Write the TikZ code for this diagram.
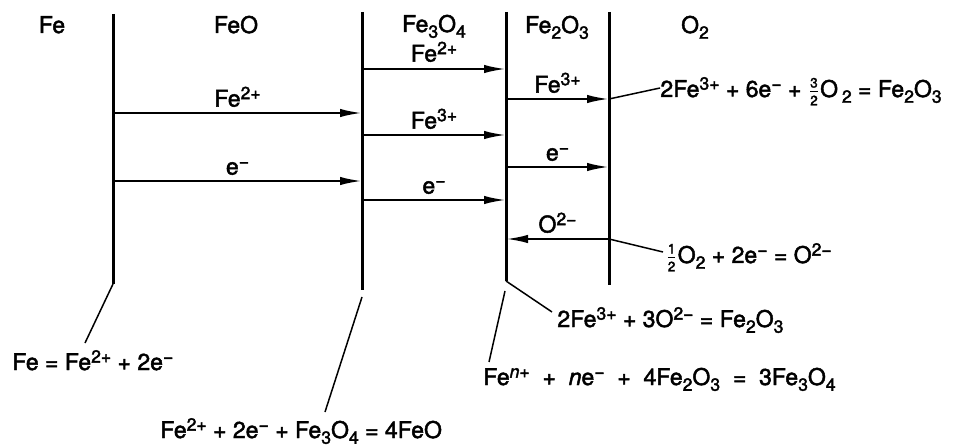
\documentclass[tikz,border=0pt]{standalone}
\usepackage{fontspec}
\setsansfont[FakeBold=2]{TeX Gyre Heros}
\usetikzlibrary{arrows.meta,calc}
\newcommand{\up}[1]{\raisebox{0.32em}{\fontsize{8.8}{9}\selectfont #1}}
\newcommand{\dn}[1]{\raisebox{-0.25em}{\fontsize{8.8}{9}\selectfont #1}}
\newcommand{\hfr}[2]{$\frac{\mbox{\fontsize{6.8}{7}\selectfont #1}}{\mbox{\fontsize{6.8}{7}\selectfont #2}}$}

\begin{document}
\begin{tikzpicture}[
  x=0.5pt, y=-0.5pt,
  font=\sffamily\fontsize{11.5}{13.5}\selectfont,
  phase/.style={line width=1.5pt},
  flow/.style={-{Latex[length=11pt,width=4.2pt]}, line width=1.1pt},
  lead/.style={line width=0.75pt},
  lbl/.style={above=1.5pt, inner sep=1pt},
  hdr/.style={anchor=base, inner sep=0pt},
  eq/.style={anchor=base west, inner sep=0pt}
]
  \useasboundingbox (0,0) rectangle (956,448);

  \draw[phase] (113,14) coordinate (b1t) -- (113,284) coordinate (b1b);
  \draw[phase] (362,12) coordinate (b2t) -- (362,290) coordinate (b2b);
  \draw[phase] (506,12) coordinate (b3t) -- (506,281) coordinate (b3b);
  \draw[phase] (609,12) coordinate (b4t) -- (609,285) coordinate (b4b);

  \node[hdr] (hFe) at (52,33) {Fe};
  \node[hdr] (hFeO) at (236,33) {FeO};
  \node[hdr] (hMag) at (434,32) {Fe\dn{3}O\dn{4}};
  \node[hdr] (hHem) at (557,33) {Fe\dn{2}O\dn{3}};
  \node[hdr] (hOx) at (695,33) {O\dn{2}};

  % FeO
  \draw[flow] (b1t |- 0,113) -- node[lbl] (fWus) {Fe\up{2+}} (b2t |- 0,113);
  \draw[flow] (b1t |- 0,181) -- node[lbl] (eWus) {e\up{−}} (b2t |- 0,181);
  % Fe3O4
  \draw[flow] (b2t |- 0,69) -- node[lbl, above=0.5pt] (fMag) {Fe\up{2+}} (b3t |- 0,69);
  \draw[flow] (b2t |- 0,135) -- node[lbl] (gMag) {Fe\up{3+}} (b3t |- 0,135);
  \draw[flow] (b2t |- 0,200) -- node[lbl] (eMag) {e\up{−}} (b3t |- 0,200);
  % Fe2O3
  \draw[flow] (b3t |- 0,99) -- node[lbl] (gHem) {Fe\up{3+}} (b4t |- 0,99) coordinate (b4f);
  \draw[flow] (b3t |- 0,167) -- node[lbl] (eHem) {e\up{−}} (b4t |- 0,167);
  \draw[flow] (b4t |- 0,239) coordinate (b4o) -- node[lbl] (oHem) {O\up{2−}} (b3t |- 0,239);

  \node[eq] (r1) at (12,370) {Fe = Fe\up{2+} + 2e\up{−}};
  \node[eq] (r2) at (160,438) {Fe\up{2+} + 2e\up{−} + Fe\dn{3}O\dn{4} = 4FeO};
  \node[eq] (r3) at (483,385) {Fe\up{\textit{n}+}\ \ + \ \textit{n}e\up{−}\ \ + \ 4Fe\dn{2}O\dn{3}\ \ = \ 3Fe\dn{3}O\dn{4}};
  \node[eq] (r4) at (557,327) {2Fe\up{3+} + 3O\up{2−} = Fe\dn{2}O\dn{3}};
  \node[eq] (r5) at (665,263) {\hfr{1}{2}O\dn{2} + 2e\up{−} = O\up{2−}};
  \node[eq] (r6) at (660,97) {2Fe\up{3+} + 6e\up{−} + \hfr{3}{2}O\,\dn{2} = Fe\dn{2}O\dn{3}};

  \draw[lead] (b1b) -- ($(r1.base west)+(73,-27)$);
  \draw[lead] ($(b2b)+(0,7)$) -- ($(r2.base west)+(165,-26)$);
  \draw[lead] ($(b3b)+(-1,10)$) -- ($(r3.base west)+(6,-23)$);
  \draw[lead] (b3b) -- ($(r4.base west)+(-5,-15)$);
  \draw[lead] (b4o) -- ($(r5.base west)+(-2,-11)$);
  \draw[lead] (b4f) -- ($(r6.base west)+(0,-9)$);
\end{tikzpicture}
\end{document}
